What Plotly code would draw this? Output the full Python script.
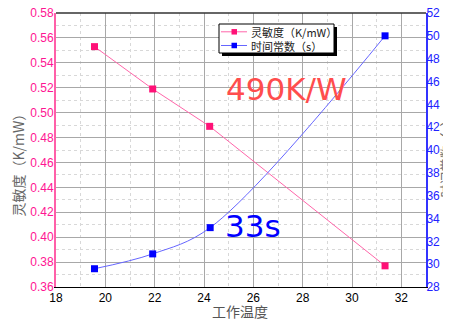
import plotly.graph_objects as go

temp = [19.56, 21.92, 24.23, 31.34]
sens = [0.553, 0.519, 0.489, 0.377]
tau_x = [19.56, 21.92, 24.25, 31.34]
tau = [29.6, 30.9, 33.2, 50.0]

x_ticks = list(range(18, 34, 2))
left_ticks = [round(0.36 + 0.02 * i, 2) for i in range(12)]
right_ticks = list(range(28, 54, 2))
legend_names = ["灵敏度（K/mW）", "时间常数（s）"]

PINK_M = "#FF1177"
PINK_L = "#FF66AA"
BLUE_M = "#0000FF"
BLUE_L = "#6666FF"
GRID = "#A8A8A8"

# page body has an 8px default margin; size the figure so the page is 451x320
OFF = 8
W, H = 451 - OFF, 320 - OFF
L, R, T, B = 56 - OFF, 25, 13 - OFF, 33
PW, PH = W - L - R, H - T - B


def px(x):  # page pixel -> paper
    return (x - OFF - L) / PW


def py(y):
    return (H - B - (y - OFF)) / PH


fig = go.Figure()
fig.add_trace(go.Scatter(
    x=temp, y=sens, name=legend_names[0], mode="lines+markers",
    line=dict(color=PINK_L, width=1), marker=dict(color=PINK_M, symbol="square", size=7),
))
fig.add_trace(go.Scatter(
    x=tau_x, y=tau, name=legend_names[1], mode="lines+markers", yaxis="y2",
    line=dict(color=BLUE_L, width=1, shape="spline", smoothing=1.0),
    marker=dict(color=BLUE_M, symbol="square", size=7),
))

# manual compact legend (box with drop shadow)
bx0, bx1, by0, by1 = 219, 334, 24, 53
shapes = [
    dict(type="line", xref="paper", yref="paper", x0=0, x1=1, y0=1, y1=1,
         line=dict(color="#333", width=1.5)),
    dict(type="rect", xref="paper", yref="paper", x0=px(bx0 + 3), x1=px(bx1 + 3),
         y0=py(by1 + 3), y1=py(by0 + 3), fillcolor="black", line=dict(width=0), layer="above"),
    dict(type="rect", xref="paper", yref="paper", x0=px(bx0), x1=px(bx1),
         y0=py(by1), y1=py(by0), fillcolor="white", line=dict(color="black", width=1), layer="above"),
]
annotations = []
rows = [(31.8, PINK_L, PINK_M), (45.5, BLUE_L, BLUE_M)]
for name, (ry, lc, mc) in zip(legend_names, rows):
    shapes.append(dict(type="line", xref="paper", yref="paper", x0=px(221), x1=px(247),
                       y0=py(ry), y1=py(ry), line=dict(color=lc, width=1), layer="above"))
    shapes.append(dict(type="rect", xref="paper", yref="paper", x0=px(231.5), x1=px(237),
                       y0=py(ry + 2.75), y1=py(ry - 2.75), fillcolor=mc, line=dict(width=0), layer="above"))
    annotations.append(dict(text=name, xref="paper", yref="paper", x=px(249), y=py(ry),
                            xanchor="left", yanchor="middle", showarrow=False,
                            font=dict(family="Noto Sans CJK SC", size=11, color="#222")))

annotations += [
    dict(text="490K/W", x=27.33, y=0.519, xref="x", yref="y", showarrow=False,
         font=dict(family="DejaVu Sans", size=31, color="#FF4D4D")),
    dict(text="33s", x=26.0, y=0.409, xref="x", yref="y", showarrow=False,
         font=dict(family="DejaVu Sans", size=31, color="#0000FF")),
    dict(text="灵敏度（K/mW）", xref="paper", yref="paper", x=px(17.5), y=py(162),
         textangle=-90, showarrow=False, xanchor="center", yanchor="middle",
         font=dict(family="Noto Sans CJK SC", size=14, color="#666")),
    dict(text="时间常数（s）", xref="paper", yref="paper", x=px(444.5), y=py(156),
         textangle=-90, showarrow=False, xanchor="center", yanchor="middle",
         font=dict(family="Noto Sans CJK SC", size=13, color="#666")),
    dict(text="工作温度", xref="paper", yref="paper", x=px(240), y=py(311),
         showarrow=False, xanchor="center", yanchor="middle",
         font=dict(family="Noto Sans CJK SC", size=14, color="#555")),
]

fig.update_layout(
    width=W, height=H,
    margin=dict(l=L, r=R, t=T, b=B, autoexpand=False),
    paper_bgcolor="white", plot_bgcolor="white",
    showlegend=False,
    xaxis=dict(
        range=[18, 33], tickvals=x_ticks, ticktext=[str(v) for v in x_ticks],
        showgrid=True, gridcolor=GRID, gridwidth=1,
        minor=dict(dtick=1, tick0=18, showgrid=True, gridcolor="#D8D8D8", griddash="dot", gridwidth=1),
        showline=True, linecolor="black", linewidth=1, mirror=False,
        tickfont=dict(family="Liberation Sans, Arial", size=12, color="black"),
        ticks="", zeroline=False, ticklabelstandoff=0, ticklabeloverflow="allow",
    ),
    yaxis=dict(
        range=[0.36, 0.58], tickvals=left_ticks, ticktext=[f"{v:.2f}" for v in left_ticks],
        showgrid=True, gridcolor=GRID, gridwidth=1,
        minor=dict(dtick=0.01, tick0=0.36, showgrid=True, gridcolor="#D8D8D8", griddash="dot", gridwidth=1),
        showline=True, linecolor="#FF5FA8", linewidth=2,
        tickfont=dict(family="Liberation Sans, Arial", size=12, color="#FF1493"),
        ticks="", zeroline=False, ticklabelstandoff=-2, ticklabeloverflow="allow",
    ),
    yaxis2=dict(
        range=[28, 52], tickvals=right_ticks, ticktext=[str(v) for v in right_ticks],
        overlaying="y", side="right", showgrid=False,
        showline=True, linecolor="#3333FF", linewidth=2,
        tickfont=dict(family="Liberation Sans, Arial", size=12, color="#2222FF"),
        ticks="", zeroline=False, ticklabelstandoff=-4, ticklabeloverflow="allow",
    ),
    shapes=shapes,
    annotations=annotations,
)

fig.write_html("out.html")
